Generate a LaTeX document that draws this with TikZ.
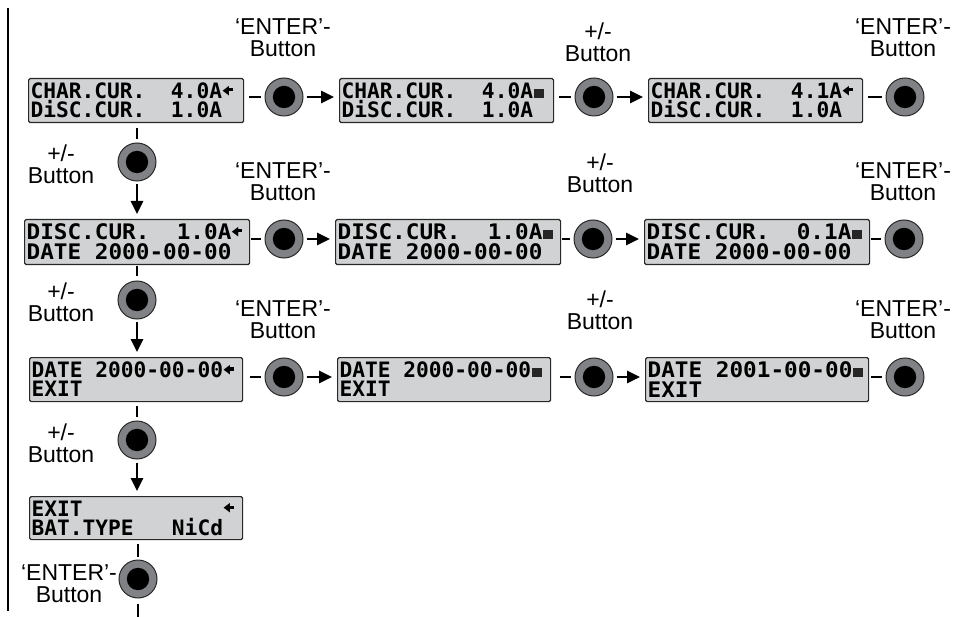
\documentclass[tikz,border=0pt]{standalone}
\usepackage{fontspec}
\usepackage{graphicx}
\setmainfont{Liberation Sans}
\newfontfamily\lcdf{DejaVu Sans Mono}
\newfontfamily\lcdg{DejaVu Sans Mono}[FakeStretch=1.06]
\newfontfamily\symf{DejaVu Sans}
\usetikzlibrary{arrows.meta}
\setlength\parindent{0pt}
\definecolor{lcdgray}{RGB}{208,210,211}
\definecolor{ringgray}{RGB}{128,130,133}
\definecolor{rimline}{RGB}{40,40,40}
\newlength\cw
\newcommand\lcdA{\fontsize{21.2pt}{19pt}\lcdf\bfseries\settowidth\cw{0}}
\newcommand\lcdB{\fontsize{21.4pt}{20pt}\lcdg\bfseries\settowidth\cw{0}}
\newcommand\blank[1]{\hspace*{#1\cw}}
\newcommand\cur{\makebox[\cw][l]{\hspace*{0.5pt}\raisebox{4.6pt}{\resizebox{6.5pt}{8.2pt}{\symf ◀}}\rule[7.4pt]{3.6pt}{3.2pt}}}
\newcommand\edt{\makebox[\cw][l]{\hspace*{0.5pt}\textcolor{black!85}{\rule[0.5pt]{10.5pt}{9pt}}}}
\newcommand\lblfont{\fontsize{23pt}{22pt}\selectfont}
\begin{document}
\begin{tikzpicture}[x=1pt,y=-1pt,
  lcd/.style={draw=rimline, line width=1.2pt, fill=lcdgray, rounded corners=1.5pt,
    anchor=north west, inner xsep=2pt, inner ysep=0pt, align=left},
  lcda/.style={lcd, font=\lcdA, text width=#1-4pt, minimum height=44pt},
  lcdb/.style={lcd, font=\lcdB, text width=#1-4pt, minimum height=45pt},
  btn/.style={circle, draw=rimline, line width=1pt, fill=ringgray, minimum size=38pt,
    inner sep=0pt, path picture={\fill[black] (path picture bounding box.center) circle (11.2pt);}},
  lbl/.style={font=\lblfont, align=center, inner sep=0pt, anchor=base},
  stub/.style={line width=2.6pt, shorten <=#1, shorten >=4pt},
  arr/.style={line width=2.6pt, -{Triangle[length=13pt,width=12pt]}, shorten <=3pt, shorten >=5pt},
  frame/.style={line width=1.8pt}
]
\useasboundingbox (0,0) rectangle (955,617);
% left rule
\coordinate (ft) at (8,8);
\coordinate (fb) at (8,611);
\draw[frame] (ft) -- (fb);

% ---------- row 1
\node[lcda=215pt] (b11) at (28,78) {CHAR.CUR.\blank{2}4.0A\cur\\DiSC.CUR.\blank{2}1.0A};
\node[lcda=214pt] (b12) at (339,78) {CHAR.CUR.\blank{2}4.0A\edt\\DiSC.CUR.\blank{2}1.0A};
\node[lcda=214pt] (b13) at (648,78) {CHAR.CUR.\blank{2}4.1A\cur\\DiSC.CUR.\blank{2}1.0A};
\node[btn] (e11) at (284,97) {};
\node[btn] (p12) at (594,97) {};
\node[btn] (e13) at (905,97) {};
\node[lbl] (l11) at (283,57) {‘ENTER’-\\Button};
\node[lbl] (l12) at (598,62) {+/-\\Button};
\node[lbl] (l13) at (903,57) {‘ENTER’-\\Button};
\draw[stub=5pt] (b11.east |- e11.west) -- (e11.west);
\draw[arr] (e11.east) -- (b12.west |- e11.east);
\draw[stub=5pt] (b12.east |- p12.west) -- (p12.west);
\draw[arr] (p12.east) -- (b13.west |- p12.east);
\draw[stub=5pt] (b13.east |- e13.west) -- (e13.west);

% column button 1
\node[btn] (c1) at (137,162) {};
\node[lbl] (lc1) at (61,184) {+/-\\Button};
\draw[stub=5pt, shorten >=3pt] (c1.north |- b11.south) -- (c1.north);

% ---------- row 2
\node[lcdb=225pt] (b21) at (24,219) {DISC.CUR.\blank{2}1.0A\cur\\DATE\blank{1}2000-00-00};
\node[lcdb=225pt] (b22) at (335,219) {DISC.CUR.\blank{2}1.0A\edt\\DATE\blank{1}2000-00-00};
\node[lcdb=225pt] (b23) at (644,219) {DISC.CUR.\blank{2}0.1A\edt\\DATE\blank{1}2000-00-00};
\node[btn] (e21) at (284,239) {};
\node[btn] (p22) at (593,239) {};
\node[btn] (e23) at (904,239) {};
\node[lbl] (l21) at (283,201) {‘ENTER’-\\Button};
\node[lbl] (l22) at (600,193) {+/-\\Button};
\node[lbl] (l23) at (903,201) {‘ENTER’-\\Button};
\draw[arr] (c1.south) -- (c1.south |- b21.north);
\draw[stub=1pt] (b21.east |- e21.west) -- (e21.west);
\draw[arr] (e21.east) -- (b22.west |- e21.east);
\draw[stub=1pt] (b22.east |- p22.west) -- (p22.west);
\draw[arr] (p22.east) -- (b23.west |- p22.east);
\draw[stub=1pt] (b23.east |- e23.west) -- (e23.west);

% column button 2
\node[btn] (c2) at (137,300) {};
\node[lbl] (lc2) at (61,322) {+/-\\Button};
\draw[stub=0.5pt] (c2.north |- b21.south) -- (c2.north);

% ---------- row 3
\node[lcda=213pt] (b31) at (29,357) {DATE\blank{1}2000-00-00\cur\\EXIT};
\node[lcda=213pt] (b32) at (337,357) {DATE\blank{1}2000-00-00\edt\\EXIT};
\node[lcdb=223pt, minimum height=44pt] (b33) at (645,357) {DATE\blank{1}2001-00-00\edt\\EXIT};
\node[btn] (e31) at (284,377) {};
\node[btn] (p32) at (594,377) {};
\node[btn] (e33) at (905,377) {};
\node[lbl] (l31) at (283,338) {‘ENTER’-\\Button};
\node[lbl] (l32) at (600,330) {+/-\\Button};
\node[lbl] (l33) at (903,338) {‘ENTER’-\\Button};
\draw[arr] (c2.south) -- (c2.south |- b31.north);
\draw[stub=7pt] (b31.east |- e31.west) -- (e31.west);
\draw[arr] (e31.east) -- (b32.west |- e31.east);
\draw[stub=9pt] (b32.east |- p32.west) -- (p32.west);
\draw[arr] (p32.east) -- (b33.west |- p32.east);
\draw[stub=2pt] (b33.east |- e33.west) -- (e33.west);

% column button 3
\node[btn] (c3) at (137,440) {};
\node[lbl] (lc3) at (61,462) {+/-\\Button};
\draw[stub=4pt] (c3.north |- b31.south) -- (c3.north);

% ---------- row 4
\node[lcda=213pt, minimum height=43pt] (b41) at (29,496) {EXIT\blank{11}\cur\\BAT.TYPE\blank{3}NiCd};
\draw[arr] (c3.south) -- (c3.south |- b41.north);

\node[btn] (c4) at (138,579) {};
\node[lbl] (lc4) at (69,602) {‘ENTER’-\\Button};
\coordinate (endc) at (138,617);
\draw[stub=4pt, shorten >=3pt] (c4.north |- b41.south) -- (c4.north);
\draw[stub=5pt, shorten >=0pt] (c4.south) -- (endc);
\end{tikzpicture}
\end{document}
